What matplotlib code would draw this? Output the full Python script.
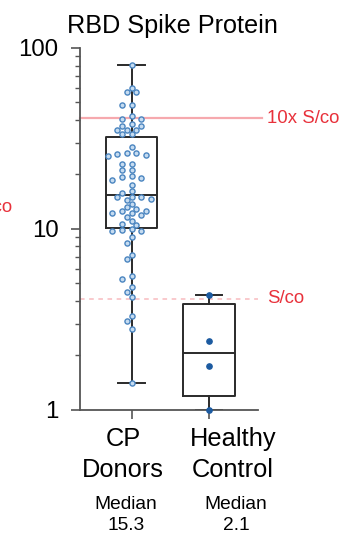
import numpy as np
import matplotlib
matplotlib.use('Agg')
import matplotlib.pyplot as plt
from matplotlib.transforms import blended_transform_factory

plt.rcParams['font.family'] = ['Liberation Sans', 'DejaVu Sans']

# values (S/co ratio)
groups = ['CP\nDonors', 'Healthy\nControl']
median_labels = ['15.3', '2.1']
cp_donors = [81, 60, 57, 57, 48.4, 48.4, 42, 40.4, 40.4, 38, 37, 36.9, 35.4, 35.2, 35.2, 33.6, 33.6,
             28.3, 26.4, 26.2, 25.9, 25.7, 25.4, 22.9, 22.9, 21.1, 21.1, 19.6, 19.4, 19.1, 18.7,
             17.5, 16.2, 15.7,
             15.0, 15.0, 15.0, 14.6, 14.4, 13.8, 13.2, 12.9, 12.5, 12.5, 12.2, 12.2, 12.0, 11.6,
             11.1, 10.7, 10.5,
             9.95, 9.9, 9.8, 9.8, 9.0, 8.4, 7.2, 6.8, 5.5, 5.3, 4.8, 4.5, 4.2, 3.3, 3.1, 2.8, 1.4]
healthy = [4.3, 2.4, 1.75, 1.0]
cutoff = 4.1
cutoff_10x = 41

red = '#e8313b'
pink = '#f6a9ae'

fig = plt.figure(figsize=(3.42, 5.33), dpi=100)
ax = fig.add_axes([0.234, 0.231, 0.520, 0.679])
ax.set_yscale('log')
ax.set_ylim(1, 100)
ax.set_xlim(0.335, 2.63)

# box stats (GraphPad style quartiles)
stats = []
for vals in [cp_donors, healthy]:
    v = np.asarray(vals)
    q1, med, q3 = np.percentile(v, [25, 50, 75], method='weibull')
    stats.append(dict(med=med, q1=q1, q3=q3, whislo=v.min(), whishi=v.max(), fliers=[]))

lp = dict(color='#2a2a2a', lw=1.4)
ax.bxp(stats, positions=[1, 2], widths=0.66, capwidths=0.34, showfliers=False,
       boxprops=lp, whiskerprops=lp, capprops=lp, medianprops=lp, manage_ticks=False)

# simple beeswarm for the donor points
def swarm(vals, pos, step_px=4.8, dmin=5.7):
    vals = np.sort(np.asarray(vals, float))[::-1]
    px_x = ax.transData.transform((pos + 1, 10))[0] - ax.transData.transform((pos, 10))[0]
    ypx = ax.transData.transform(np.column_stack([np.full(len(vals), pos), vals]))[:, 1]
    placed = []
    xs = []
    for y in ypx:
        for k in [0, -1, 1, -2, 2, -3, 3, -4, 4, -5, 5]:
            off = k * step_px
            if all((off - a) ** 2 + (y - b) ** 2 >= dmin ** 2 for a, b in placed):
                break
        placed.append((off, y))
        xs.append(pos + off / px_x)
    return np.array(xs), vals

xs, ys = swarm(cp_donors, 1)
ax.plot(xs, ys, 'o', ms=3.7, mfc='#c6dcf1', mec='#4a85c0', mew=1.0, zorder=4, clip_on=False)
ax.plot(np.full(len(healthy), 2), healthy, 'o', ms=3.8, color='#1b5aa0', zorder=4, clip_on=False)

# cut-off lines
tr = blended_transform_factory(ax.transAxes, ax.transData)
ax.plot([0, 1.025], [cutoff_10x, cutoff_10x], transform=tr, color=pink, lw=1.6,
        clip_on=False, zorder=1)
ax.plot([0, 1.0], [cutoff, cutoff], transform=tr, color=pink, lw=1.1, ls=(0, (3, 3)),
        alpha=0.8, clip_on=False, zorder=1)
ax.text(1.05, cutoff_10x, '10x S/co', transform=tr, color=red, fontsize=13.4, va='center')
ax.text(1.05, cutoff, 'S/co', transform=tr, color=red, fontsize=13.4, va='center')
# label of the neighbouring panel, cut by the left edge
fig.text(12 / 342, 1 - 208 / 533, 'S/co', color=red, fontsize=13.4, ha='right', va='center')

ax.set_title('RBD Spike Protein', fontsize=18.2, pad=10.5, x=0.52)

ax.spines['top'].set_visible(False)
ax.spines['right'].set_visible(False)
for s in ['left', 'bottom']:
    ax.spines[s].set_color('#555555')
    ax.spines[s].set_linewidth(1.3)

ax.set_yticks([1, 10, 100])
ax.set_yticklabels(['1', '10', '100'])
ax.tick_params(axis='y', which='major', length=6.5, width=1.2, color='#555555',
               labelsize=17.3, pad=9)
ax.tick_params(axis='y', which='minor', length=3.8, width=1.0, color='#555555')
ax.yaxis.set_minor_formatter(matplotlib.ticker.NullFormatter())
ax.set_xticks([1, 2])
ax.set_xticklabels([])
ax.tick_params(axis='x', length=6.5, width=1.2, color='#555555')

label_x = [0.89, 2.31]
for x, g, m in zip(label_x, groups, median_labels):
    ax.annotate(g, xy=(x, 0), xycoords=('data', 'axes fraction'), xytext=(0, -12),
                textcoords='offset points', ha='center', va='top', fontsize=18.3,
                linespacing=1.38, annotation_clip=False)
    ax.annotate('Median\n' + m, xy=(x + 0.04, 0), xycoords=('data', 'axes fraction'),
                xytext=(0, -62), textcoords='offset points', ha='center', va='top',
                fontsize=13.8, linespacing=1.3, annotation_clip=False)

fig.savefig('out.png', dpi=100)
